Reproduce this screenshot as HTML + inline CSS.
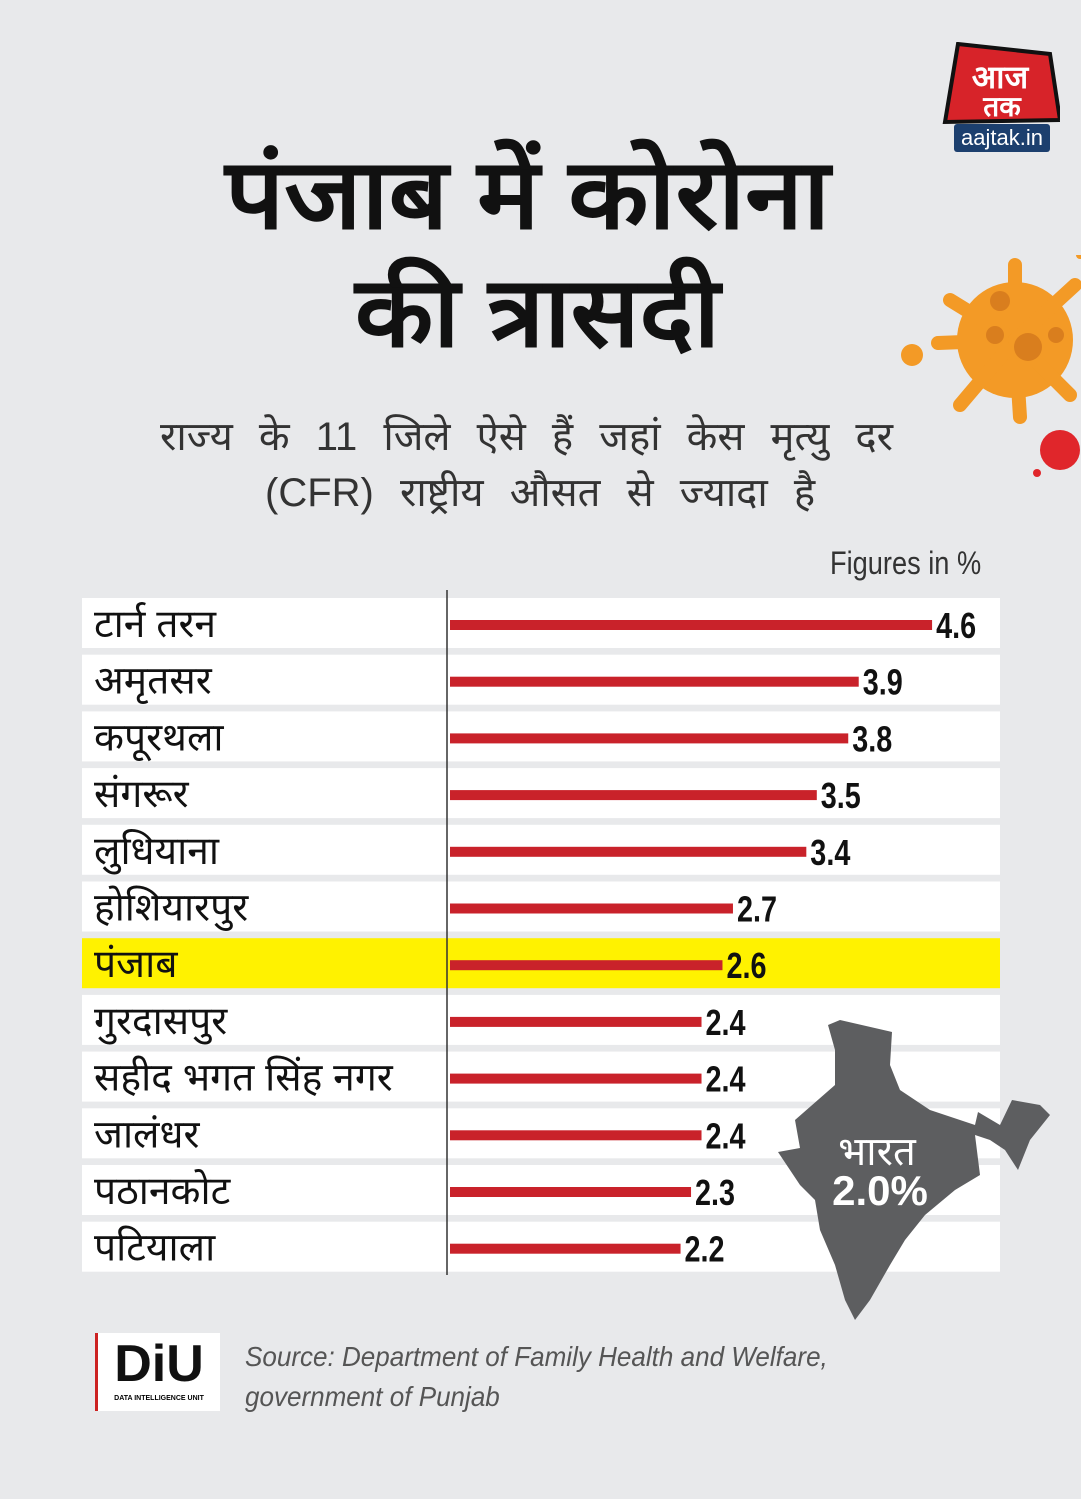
<!DOCTYPE html>
<html><head><meta charset="utf-8">
<style>
body{margin:0;width:1081px;height:1499px;background:#e8e9eb;font-family:"Liberation Sans","Noto Sans CJK SC",sans-serif;position:relative;overflow:hidden}
.abs{position:absolute}
</style></head><body>
<svg class="abs" style="left:0;top:0" width="1081" height="540">
<g font-family="Liberation Sans, Noto Sans CJK SC, sans-serif">
<text x="225" y="228" font-size="98" font-weight="bold" fill="#111" textLength="605" lengthAdjust="spacingAndGlyphs">पंजाब में कोरोना</text>
<text x="355" y="346" font-size="98" font-weight="bold" fill="#111" textLength="365" lengthAdjust="spacingAndGlyphs">की त्रासदी</text>
<text x="160" y="450" font-size="40" fill="#333" word-spacing="15">राज्य के 11 जिले ऐसे हैं जहां केस मृत्यु दर</text>
<text x="265" y="506" font-size="40" fill="#333" word-spacing="15">(CFR) राष्ट्रीय औसत से ज्यादा है</text>
</g></svg>
<div class="abs" style="top:545px;left:830px;font-size:32px;color:#333;transform:scaleX(0.85);transform-origin:left">Figures in %</div>

<div class="abs" style="left:940px;top:42px;width:120px;height:110px">
<svg width="120" height="110"><polygon points="18,2 110,12 120,78 5,80" fill="#d72329" stroke="#111" stroke-width="4"/>
<text x="60" y="46" font-size="32" fill="#fff" text-anchor="middle" font-weight="bold" font-family="Liberation Sans, Noto Sans CJK SC, sans-serif">आज</text>
<text x="62" y="74" font-size="28" fill="#fff" text-anchor="middle" font-weight="bold" font-family="Liberation Sans, Noto Sans CJK SC, sans-serif">तक</text>
<rect x="14" y="82" width="96" height="28" rx="3" fill="#1c3f6e"/>
<text x="62" y="103" font-size="22" fill="#fff" text-anchor="middle" font-family="Liberation Sans, sans-serif">aajtak.in</text></svg></div>

<svg class="abs" style="left:900px;top:255px" width="181" height="250">
<g fill="#f39a26"><circle cx="115" cy="85" r="58"/>
<g stroke="#f39a26" stroke-width="14" stroke-linecap="round">
<line x1="115" y1="85" x2="115" y2="10"/><line x1="115" y1="85" x2="50" y2="45"/><line x1="115" y1="85" x2="38" y2="88"/><line x1="115" y1="85" x2="60" y2="150"/><line x1="115" y1="85" x2="120" y2="162"/><line x1="115" y1="85" x2="170" y2="140"/><line x1="115" y1="85" x2="175" y2="30"/></g>
<circle cx="12" cy="100" r="11"/><circle cx="63" cy="148" r="4"/><circle cx="180" cy="0" r="4"/></g>
<g fill="#d97e1e"><circle cx="128" cy="92" r="14"/><circle cx="100" cy="46" r="10"/><circle cx="95" cy="80" r="9"/><circle cx="156" cy="80" r="8"/></g>
<g fill="#e0262b"><circle cx="160" cy="195" r="20"/><circle cx="137" cy="218" r="4"/></g>
</svg>

<svg class="abs" id="chart" style="left:0;top:0" width="1081" height="1499"></svg>

<div class="abs" style="left:95px;top:1333px;width:122px;height:78px;background:#fff;border-left:3px solid #c22;">
<div style="font-size:52px;font-weight:bold;color:#111;text-align:center;line-height:62px">DiU</div>
<div style="font-size:7px;text-align:center;font-weight:bold">DATA INTELLIGENCE UNIT</div></div>
<div class="abs" style="left:245px;top:1337px;font-size:28px;font-style:italic;color:#555;line-height:40px;font-family:'Liberation Sans',sans-serif;transform:scaleX(0.93);transform-origin:left">Source: Department of Family Health and Welfare,<br>government of Punjab</div>

<script>
const districts=["टार्न तरन","अमृतसर","कपूरथला","संगरूर","लुधियाना","होशियारपुर","पंजाब","गुरदासपुर","सहीद भगत सिंह नगर","जालंधर","पठानकोट","पटियाला"];
const cfrValues=[4.6,3.9,3.8,3.5,3.4,2.7,2.6,2.4,2.4,2.4,2.3,2.2];
const valueLabels=["4.6","3.9","3.8","3.5","3.4","2.7","2.6","2.4","2.4","2.4","2.3","2.2"];
const highlightIndex=6;
const NS="http://www.w3.org/2000/svg";
const svg=document.getElementById('chart');
const x0=450, unit=104.8, top0=598, pitch=56.7, rowH=50;
const xs=v=>x0+v*unit;
const ys=i=>top0+i*pitch;
function mk(t,a){const e=document.createElementNS(NS,t);for(const k in a)e.setAttribute(k,a[k]);svg.appendChild(e);return e;}
districts.forEach((d,i)=>{
  const r=mk('rect',{x:82,y:ys(i),width:918,height:rowH,fill:i===highlightIndex?'#fff200':'#fff'});
  
  
});
const map=mk('polygon',{points:"840,1020 892,1032 890,1065 900,1090 930,1110 975,1125 978,1112 1000,1125 1012,1100 1040,1105 1050,1115 1030,1140 1018,1170 1005,1150 990,1140 975,1135 980,1175 955,1190 925,1215 905,1240 890,1265 870,1300 855,1320 845,1300 835,1265 820,1230 815,1200 800,1185 778,1152 800,1148 795,1120 835,1085 835,1050 828,1025",fill:'#5d5e60'});


const ax=mk('line',{x1:447,y1:590,x2:447,y2:1275,stroke:'#333','stroke-width':1.5});


districts.forEach((d,i)=>{
  const y=ys(i);
  const t=mk('text',{x:94,y:y+39,'font-size':39,fill:'#111','font-family':'Liberation Sans, Noto Sans CJK SC, sans-serif'});
  t.textContent=d;
  
  
  const b=mk('rect',{x:x0,y:y+22,width:xs(cfrValues[i])-x0,height:10,fill:'#c9222a'});
  
  
  const lx=xs(cfrValues[i])+4;
  const v=mk('text',{x:lx,y:y+40,'font-size':36,'font-weight':'bold',fill:'#111','font-family':'Liberation Sans, sans-serif',transform:`translate(${lx},0) scale(0.8,1) translate(${-lx},0)`});
  v.textContent=valueLabels[i];
  
  
});
const m1=mk('text',{x:877,y:1165,'font-size':40,fill:'#fff','text-anchor':'middle','font-family':'Liberation Sans, Noto Sans CJK SC, sans-serif'});
m1.textContent="भारत";


const m2=mk('text',{x:880,y:1205,'font-size':42,fill:'#fff','text-anchor':'middle','font-weight':'bold','font-family':'Liberation Sans, sans-serif'});
m2.textContent="2.0%";


</script>
</body></html>
